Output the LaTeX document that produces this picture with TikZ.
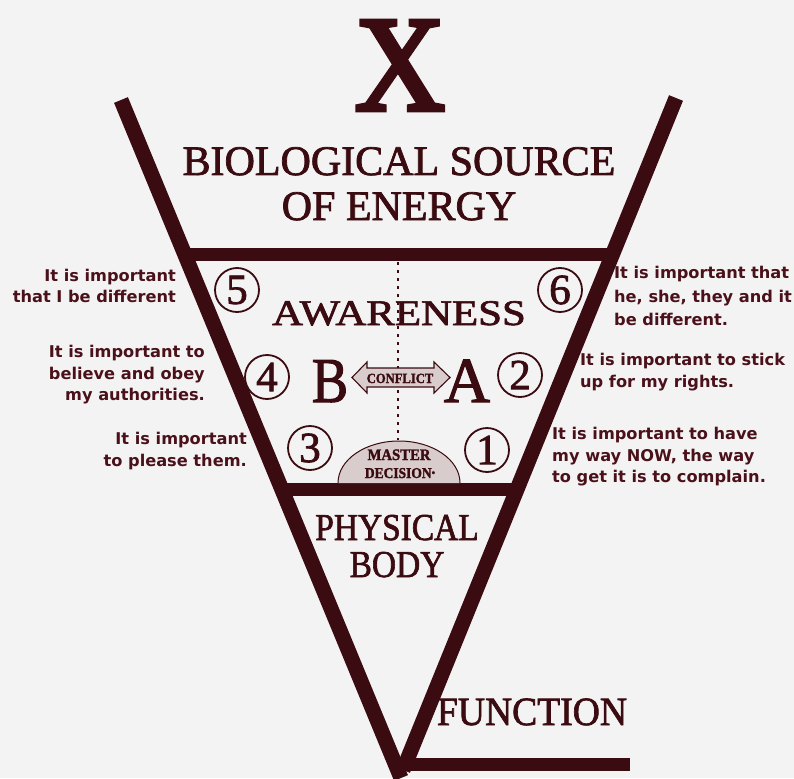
\documentclass[tikz,border=0pt]{standalone}
\usepackage{fontspec}
\setmainfont{Liberation Serif}[FakeBold=1.8]
\newfontfamily\sidefont{DejaVu Sans}
\newfontfamily\xfont{Liberation Serif}[FakeBold=3.5]
\definecolor{ink}{HTML}{3A0B10}
\definecolor{txt}{HTML}{4A111A}
\definecolor{paper}{HTML}{F4F3F3}
\definecolor{stip}{HTML}{D8CCCC}
\begin{document}
\begin{tikzpicture}[x=1pt,y=-1pt,
  slant/.style={draw=ink, line width=15pt, line cap=butt},
  barline/.style={draw=ink, line width=13pt, line cap=butt},
  head/.style={text=ink, inner sep=0pt, anchor=base},
  side/.style={text=txt, inner sep=0pt, font=\sidefont\bfseries\fontsize{16.2}{21.5}\selectfont},
  num/.style={circle, draw=ink, line width=1.8pt, minimum size=44pt, inner sep=0pt, text=ink, font=\fontsize{43}{43}\selectfont},
]
\fill[paper] (0,0) rectangle (794,778);
\useasboundingbox (0,0) rectangle (794,778);

% geometry points
\coordinate (LT) at (121,100);
\coordinate (LB) at (401,778);
\coordinate (RT) at (676,98);
\coordinate (RB) at (403,770);
\coordinate (FA) at (396,764);
\coordinate (FB) at (630,764);
\coordinate (TA) at (183,254);
\coordinate (TB) at (614,254);
\coordinate (BA) at (280,489);
\coordinate (BB) at (519,489);
\coordinate (DT) at (398,262);
\coordinate (DB) at (398,440);

% dashed centre line
\draw[ink, line width=1.4pt, dash pattern=on 3pt off 5pt] (DT) -- (DB);

% main frame
\draw[slant] (LT) -- (LB);
\draw[slant] (RT) -- (RB);
\draw[barline] (TA) -- (TB);
\draw[barline] (BA) -- (BB);
\draw[barline] (FA) -- (FB);

% headings
\node[head, font=\xfont\fontsize{136}{136}\selectfont] (X) at (400,110) {\scalebox{0.92}[1]{X}};
\node[head, font=\fontsize{42}{42}\selectfont] (bio) at (399,175) {BIOLOGICAL SOURCE};
\node[head, font=\fontsize{42}{42}\selectfont] (energy) at (399,220) {OF ENERGY};
\node[head, font=\fontsize{36}{36}\selectfont] (aware) at (399,325) {\scalebox{1.19}[1]{AWARENESS}};
\node[head, font=\fontsize{38}{38}\selectfont] (phys) at (397,540) {\scalebox{0.88}[1]{PHYSICAL}};
\node[head, font=\fontsize{38}{38}\selectfont] (body) at (397,577) {\scalebox{0.88}[1]{BODY}};
\node[head, font=\fontsize{40}{40}\selectfont] (func) at (532,725) {\scalebox{0.94}[1]{FUNCTION}};

% B and A
\node[head, font=\fontsize{64}{64}\selectfont] (B) at (330,402) {\scalebox{0.85}[1]{B}};
\node[head, font=\fontsize{64}{64}\selectfont] (A) at (467,402) {A};

% conflict arrow
\draw[ink, line width=1.1pt, fill=stip]
  (352,377.5) -- (367,362) -- (367,368) -- (434,368) -- (434,362) -- (450,377.5)
  -- (434,393) -- (434,387) -- (367,387) -- (367,393) -- cycle;
\node[head, font=\bfseries\fontsize{14}{14}\selectfont] (conf) at (400,383) {\scalebox{0.9}[1]{CONFLICT}};

% master decision dome
\draw[ink, line width=1pt, fill=stip] (338,483) arc[start angle=180, end angle=360, x radius=61, y radius=42];
\node[head, font=\bfseries\fontsize{16}{16}\selectfont] (master) at (399,460) {\scalebox{0.92}[1]{MASTER}};
\node[head, font=\bfseries\fontsize{15}{15}\selectfont] (decision) at (400,478) {\scalebox{0.9}[1]{DECISION}\raisebox{2pt}{\fontsize{10}{10}\selectfont\textbullet}};

% numbered circles
\node[num] (n5) at (237,290) {5};
\node[num] (n6) at (560,290) {6};
\node[num] (n4) at (267,377) {4};
\node[num] (n2) at (520,375) {2};
\node[num] (n3) at (310,448) {3};
\node[num] (n1) at (487,450) {1};

% side texts
\node[side, anchor=east, align=right] (t5) at (176,286) {It is important\\that I be different};
\node[side, anchor=east, align=right] (t4) at (205,375) {It is important to\\believe and obey\\my authorities.};
\node[side, anchor=east, align=right] (t3) at (247,451) {It is important\\to please them.};
\node[side, anchor=west, align=left, font=\sidefont\bfseries\fontsize{16.2}{23.5}\selectfont] (t6) at (614,296) {It is important that\\he, she, they and it\\be different.};
\node[side, anchor=west, align=left] (t2) at (580,372) {It is important to stick\\up for my rights.};
\node[side, anchor=west, align=left] (t1) at (552,457) {It is important to have\\my way NOW, the way\\to get it is to complain.};
\end{tikzpicture}
\end{document}
